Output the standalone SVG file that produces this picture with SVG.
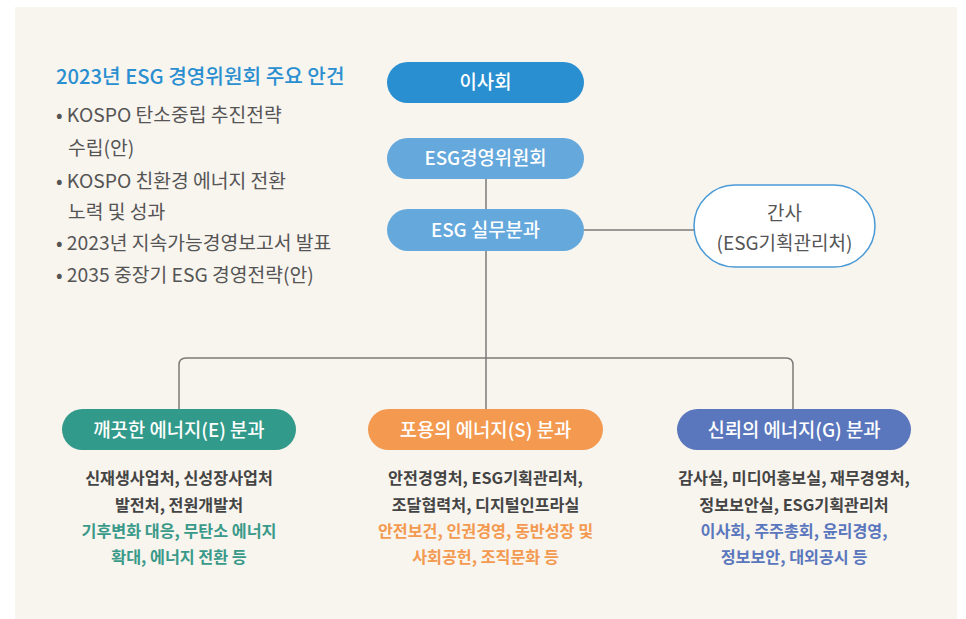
<svg xmlns="http://www.w3.org/2000/svg" width="966" height="619" viewBox="0 0 966 619">
<style>
text{font-family:"Noto Sans CJK KR","Noto Sans",sans-serif;}
.lbl{fill:#fff;font-size:18.8px;font-weight:500;text-anchor:middle;}
.blbl{fill:#fff;font-size:18.8px;font-weight:500;text-anchor:middle;}
.bul{fill:#555;font-size:19.3px;}
.body{fill:#444;font-size:16.2px;font-weight:700;text-anchor:middle;}
.ge{fill:#3a9a8a;font-size:16.2px;font-weight:700;text-anchor:middle;}
.gs{fill:#f39a50;font-size:16.2px;font-weight:700;text-anchor:middle;}
.gg{fill:#5a77bd;font-size:16.2px;font-weight:700;text-anchor:middle;}
.conn{fill:none;stroke:#7d7b78;stroke-width:1.5;}
</style>
<rect x="15" y="7" width="942" height="612" fill="#f8f4ee"/>
<g id="agenda">
<text x="56" y="84" fill="#2a8fd0" font-size="20.2" font-weight="500">2023년 ESG 경영위원회 주요 안건</text>
<text class="bul" x="56" y="122">• KOSPO 탄소중립 추진전략</text>
<text class="bul" x="68" y="155">수립(안)</text>
<text class="bul" x="56" y="188">• KOSPO 친환경 에너지 전환</text>
<text class="bul" x="68" y="219">노력 및 성과</text>
<text class="bul" x="56" y="250">• 2023년 지속가능경영보고서 발표</text>
<text class="bul" x="56" y="282">• 2035 중장기 ESG 경영전략(안)</text>
</g>
<g id="connectors">
<line class="conn" x1="486" y1="179" x2="486" y2="209"/>
<line class="conn" x1="486" y1="251" x2="486" y2="409"/>
<line class="conn" x1="584" y1="230" x2="694" y2="230"/>
<path class="conn" d="M179 409 V365 Q179 358 186 358 H786 Q793 358 793 365 V409"/>
</g>
<g id="board">
<rect x="387" y="62" width="197" height="41" rx="20.5" fill="#2a8fd0"/>
<text class="lbl" x="485.5" y="89">이사회</text>
</g>
<g id="committee">
<rect x="387" y="138" width="197" height="41" rx="20.5" fill="#64a8dc"/>
<text class="lbl" x="485.5" y="165">ESG경영위원회</text>
</g>
<g id="working">
<rect x="387" y="209" width="197" height="42" rx="21" fill="#64a8dc"/>
<text class="lbl" x="485.5" y="236.5">ESG 실무분과</text>
</g>
<g id="secretary">
<rect x="694" y="185" width="181" height="82" rx="41" fill="#fff" stroke="#4a9ad6" stroke-width="1.5"/>
<text x="784.5" y="220" fill="#555" font-size="19" text-anchor="middle">간사</text>
<text x="784.5" y="250" fill="#555" font-size="19" text-anchor="middle">(ESG기획관리처)</text>
</g>
<g id="env">
<rect x="62" y="409" width="234" height="41" rx="20.5" fill="#329a8a"/>
<text class="blbl" x="179" y="436.5">깨끗한 에너지(E) 분과</text>
<text class="body" x="179" y="484">신재생사업처, 신성장사업처</text>
<text class="body" x="179" y="511">발전처, 전원개발처</text>
<text class="ge" x="179" y="537">기후변화 대응, 무탄소 에너지</text>
<text class="ge" x="179" y="563">확대, 에너지 전환 등</text>
</g>
<g id="soc">
<rect x="368" y="409" width="235" height="41" rx="20.5" fill="#f39a50"/>
<text class="blbl" x="485.5" y="436.5">포용의 에너지(S) 분과</text>
<text class="body" x="485.5" y="484">안전경영처, ESG기획관리처,</text>
<text class="body" x="485.5" y="511">조달협력처, 디지털인프라실</text>
<text class="gs" x="485.5" y="537">안전보건, 인권경영, 동반성장 및</text>
<text class="gs" x="485.5" y="563">사회공헌, 조직문화 등</text>
</g>
<g id="gov">
<rect x="677" y="409" width="234" height="41" rx="20.5" fill="#5a77bd"/>
<text class="blbl" x="794" y="436.5">신뢰의 에너지(G) 분과</text>
<text class="body" x="794" y="484">감사실, 미디어홍보실, 재무경영처,</text>
<text class="body" x="794" y="511">정보보안실, ESG기획관리처</text>
<text class="gg" x="794" y="537">이사회, 주주총회, 윤리경영,</text>
<text class="gg" x="794" y="563">정보보안, 대외공시 등</text>
</g>
</svg>
